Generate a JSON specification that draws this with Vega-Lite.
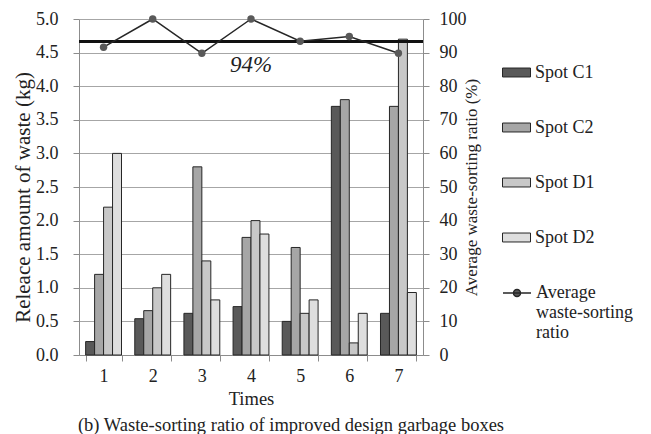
{
  "$schema": "https://vega.github.io/schema/vega-lite/v6.json",
  "width": 344,
  "height": 336,
  "autosize": {"type": "none"},
  "padding": {"left": 79, "top": 19, "right": 228, "bottom": 79},
  "config": {
    "font": "Liberation Serif",
    "view": {"stroke": null},
    "axis": {
      "labelColor": "#222",
      "titleColor": "#222",
      "titleFontWeight": "normal",
      "domainColor": "#8c8c8c",
      "tickColor": "#8c8c8c",
      "gridColor": "#a6a6a6",
      "tickSize": 6
    },
    "legend": {"labelFont": "Liberation Serif", "labelColor": "#222"}
  },
  "datasets": {
    "waste": [
      {"Times": "1", "Spot": "Spot C1", "kg": 0.2},
      {"Times": "1", "Spot": "Spot C2", "kg": 1.2},
      {"Times": "1", "Spot": "Spot D1", "kg": 2.2},
      {"Times": "1", "Spot": "Spot D2", "kg": 3.0},
      {"Times": "2", "Spot": "Spot C1", "kg": 0.54},
      {"Times": "2", "Spot": "Spot C2", "kg": 0.66},
      {"Times": "2", "Spot": "Spot D1", "kg": 1.0},
      {"Times": "2", "Spot": "Spot D2", "kg": 1.2},
      {"Times": "3", "Spot": "Spot C1", "kg": 0.62},
      {"Times": "3", "Spot": "Spot C2", "kg": 2.8},
      {"Times": "3", "Spot": "Spot D1", "kg": 1.4},
      {"Times": "3", "Spot": "Spot D2", "kg": 0.82},
      {"Times": "4", "Spot": "Spot C1", "kg": 0.72},
      {"Times": "4", "Spot": "Spot C2", "kg": 1.75},
      {"Times": "4", "Spot": "Spot D1", "kg": 2.0},
      {"Times": "4", "Spot": "Spot D2", "kg": 1.8},
      {"Times": "5", "Spot": "Spot C1", "kg": 0.5},
      {"Times": "5", "Spot": "Spot C2", "kg": 1.6},
      {"Times": "5", "Spot": "Spot D1", "kg": 0.62},
      {"Times": "5", "Spot": "Spot D2", "kg": 0.82},
      {"Times": "6", "Spot": "Spot C1", "kg": 3.7},
      {"Times": "6", "Spot": "Spot C2", "kg": 3.8},
      {"Times": "6", "Spot": "Spot D1", "kg": 0.18},
      {"Times": "6", "Spot": "Spot D2", "kg": 0.62},
      {"Times": "7", "Spot": "Spot C1", "kg": 0.62},
      {"Times": "7", "Spot": "Spot C2", "kg": 3.7},
      {"Times": "7", "Spot": "Spot D1", "kg": 4.7},
      {"Times": "7", "Spot": "Spot D2", "kg": 0.93}
    ],
    "ratio": [
      {"Times": "1", "ratio": 91.6},
      {"Times": "2", "ratio": 100},
      {"Times": "3", "ratio": 89.8},
      {"Times": "4", "ratio": 100},
      {"Times": "5", "ratio": 93.4},
      {"Times": "6", "ratio": 94.8},
      {"Times": "7", "ratio": 89.8}
    ],
    "reference": [
      {"ratio": 93.3, "label": "94%"}
    ]
  },
  "title": {
    "text": "(b) Waste-sorting ratio of improved design garbage boxes",
    "orient": "bottom",
    "frame": "group",
    "anchor": "middle",
    "dx": 40,
    "offset": 8,
    "font": "Liberation Serif",
    "fontSize": 18.5,
    "fontWeight": "normal",
    "color": "#222"
  },
  "layer": [
    {
      "data": {"name": "waste"},
      "mark": {"type": "bar", "stroke": "#262626", "strokeWidth": 1},
      "encoding": {
        "x": {
          "field": "Times",
          "type": "nominal",
          "scale": {"paddingInner": 0.27, "paddingOuter": 0.135},
          "axis": {
            "title": "Times",
            "labelFont": "Liberation Serif",
            "titleFont": "Liberation Serif",
            "labelAngle": 0,
            "labelFontSize": 18,
            "titleFontSize": 18.5,
            "tickBand": "extent",
            "labelPadding": 6,
            "titlePadding": 4
          }
        },
        "xOffset": {"field": "Spot", "type": "nominal", "sort": ["Spot C1", "Spot C2", "Spot D1", "Spot D2"]},
        "y": {
          "field": "kg",
          "type": "quantitative",
          "scale": {"domain": [0, 5], "nice": false},
          "axis": {
            "title": "Releace amount of waste (kg)",
            "labelFont": "Liberation Serif",
            "titleFont": "Liberation Serif",
            "values": [0, 0.5, 1, 1.5, 2, 2.5, 3, 3.5, 4, 4.5, 5],
            "format": ".1f",
            "labelFontSize": 18,
            "titleFontSize": 21,
            "labelPadding": 15,
            "titlePadding": 2,
            "titleY": 178,
            "grid": true,
            "orient": "left"
          }
        },
        "fill": {
          "field": "Spot",
          "type": "nominal",
          "scale": {
            "domain": ["Spot C1", "Spot C2", "Spot D1", "Spot D2"],
            "range": ["#595959", "#a6a6a6", "#c8c8c8", "#dedede"]
          },
          "legend": {
            "orient": "none",
            "legendX": 423,
            "legendY": 39,
            "title": null,
            "padding": 0,
            "symbolType": "M-1,-0.32H1V0.32H-1Z",
            "symbolSize": 784,
            "symbolStrokeColor": "#262626",
            "symbolStrokeWidth": 1,
            "labelFont": "Liberation Serif",
            "labelFontSize": 18,
            "labelOffset": 4,
            "rowPadding": 31
          }
        }
      }
    },
    {
      "layer": [
        {
          "data": {"name": "reference"},
          "mark": {"type": "rule", "stroke": "#111", "strokeWidth": 3},
          "encoding": {
            "y": {
              "field": "ratio",
              "type": "quantitative",
              "scale": {"domain": [0, 100], "nice": false},
              "axis": {
                "orient": "right",
                "title": "Average waste-sorting ratio (%)",
                "labelFont": "Liberation Serif",
                "titleFont": "Liberation Serif",
                "values": [0, 10, 20, 30, 40, 50, 60, 70, 80, 90, 100],
                "labelFontSize": 18,
                "labelOverlap": false,
                "titleFontSize": 17,
                "labelPadding": 10,
                "titlePadding": -3,
                "titleAngle": 270,
                "titleBaseline": "top",
                "grid": false
              }
            }
          }
        },
        {
          "data": {"name": "reference"},
          "mark": {"type": "text", "font": "Liberation Serif", "fontSize": 23, "fontStyle": "italic", "color": "#222", "dy": 23, "baseline": "middle"},
          "encoding": {
            "y": {
              "field": "ratio",
              "type": "quantitative",
              "axis": {
                "orient": "right",
                "title": "Average waste-sorting ratio (%)",
                "labelFont": "Liberation Serif",
                "titleFont": "Liberation Serif",
                "values": [0, 10, 20, 30, 40, 50, 60, 70, 80, 90, 100],
                "labelFontSize": 18,
                "labelOverlap": false,
                "titleFontSize": 17,
                "labelPadding": 10,
                "titlePadding": -3,
                "titleAngle": 270,
                "titleBaseline": "top",
                "grid": false
              }
            },
            "text": {"field": "label"}
          }
        },
        {
          "data": {"name": "ratio"},
          "mark": {"type": "line", "strokeWidth": 1.5, "point": {"filled": true, "size": 55, "fill": "#595959", "strokeWidth": 0}},
          "encoding": {
            "x": {"field": "Times", "type": "nominal"},
            "y": {
              "field": "ratio",
              "type": "quantitative",
              "axis": {
                "orient": "right",
                "title": "Average waste-sorting ratio (%)",
                "labelFont": "Liberation Serif",
                "titleFont": "Liberation Serif",
                "values": [0, 10, 20, 30, 40, 50, 60, 70, 80, 90, 100],
                "labelFontSize": 18,
                "labelOverlap": false,
                "titleFontSize": 17,
                "labelPadding": 10,
                "titlePadding": -3,
                "titleAngle": 270,
                "titleBaseline": "top",
                "grid": false
              }
            },
            "stroke": {
              "datum": "Average waste-sorting ratio",
              "type": "nominal",
              "scale": {"range": ["#262626"]},
              "legend": {
                "orient": "none",
                "legendX": 423,
                "legendY": 259,
                "title": null,
                "padding": 0,
                "symbolType": "M-1,0H1M0.25,0A0.25,0.25 0 1,1 -0.25,0A0.25,0.25 0 1,1 0.25,0",
                "symbolSize": 784,
                "symbolFillColor": "#595959",
                "symbolStrokeColor": "#262626",
                "symbolStrokeWidth": 1.5,
                "labelExpr": "split(datum.label, ' ')",
                "labelFont": "Liberation Serif",
                "labelFontSize": 18,
                "labelOffset": 4
              }
            }
          }
        }
      ]
    }
  ],
  "resolve": {"scale": {"y": "independent"}}
}
